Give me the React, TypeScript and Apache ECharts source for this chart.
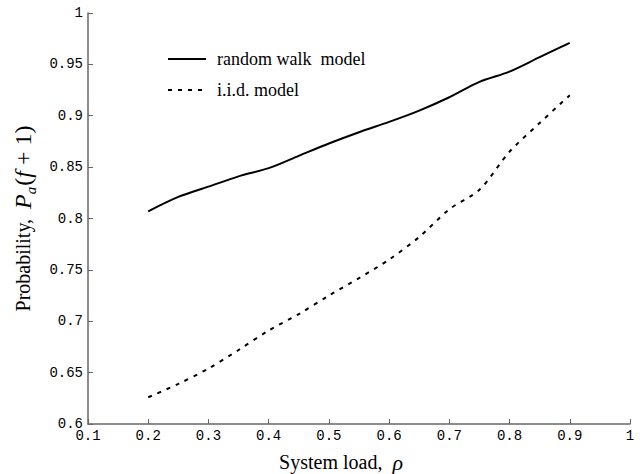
import React, { useEffect, useRef } from "react";
import * as echarts from "echarts";

const loads = [0.2, 0.25, 0.3, 0.35, 0.4, 0.45, 0.5, 0.55, 0.6, 0.65, 0.7, 0.75, 0.8, 0.85, 0.9];
const randomWalk = [0.807, 0.821, 0.831, 0.841, 0.849, 0.861, 0.873, 0.884, 0.894, 0.905, 0.918, 0.933, 0.943, 0.957, 0.971];
const iid = [0.626, 0.639, 0.654, 0.672, 0.691, 0.707, 0.725, 0.742, 0.76, 0.782, 0.809, 0.828, 0.865, 0.893, 0.92];
const seriesNames = ["random walk  model", "i.i.d. model"];

const fmt = (v: number) => String(+v.toFixed(2));

export default function App() {
  const ref = useRef<HTMLDivElement>(null);
  useEffect(() => {
    document.body.style.margin = "0";
    const chart = echarts.init(ref.current!, null, { renderer: "svg" });
    const axisCommon = {
      axisLine: { show: true, lineStyle: { color: "#666", width: 1.5 } },
      axisTick: { show: true, inside: true, length: 5, lineStyle: { color: "#666", width: 1 } },
      splitLine: { show: false },
      axisLabel: {
        color: "#000",
        fontFamily: "Liberation Mono",
        fontSize: 14,
        formatter: fmt,
      },
    };
    chart.setOption({
      animation: false,
      backgroundColor: "#fff",
      grid: { left: 88, right: 14, top: 13, bottom: 50, containLabel: false, outerBoundsMode: "none" },
      legend: {
        orient: "vertical",
        left: 162,
        top: 45,
        itemWidth: 38,
        itemHeight: 14,
        itemGap: 13,
        data: seriesNames,
        itemStyle: { opacity: 0 },
        textStyle: { fontFamily: "Liberation Serif", fontSize: 18, color: "#000", padding: [0, 0, 0, 6] },
      },
      xAxis: {
        type: "value",
        min: 0.1,
        max: 1,
        interval: 0.1,
        ...axisCommon,
        axisLabel: { ...axisCommon.axisLabel, margin: 5 },
        name: "{t|System load,  }{i|ρ}",
        nameLocation: "middle",
        nameGap: 27,
        nameTextStyle: {
          padding: [0, 36, 0, 0],
          rich: {
            t: { fontFamily: "Liberation Serif", fontSize: 20, color: "#000" },
            i: { fontFamily: "Liberation Serif", fontSize: 22, fontStyle: "italic", color: "#000" },
          },
        },
      },
      yAxis: {
        type: "value",
        min: 0.6,
        max: 1,
        interval: 0.05,
        ...axisCommon,
        axisLabel: { ...axisCommon.axisLabel, margin: 5 },
        name: "{t|Probability,  }{i|P}{s|a}{n|(}{i|f}{n| + 1)}",
        nameLocation: "middle",
        nameGap: 50,
        nameTextStyle: {
          rich: {
            t: { fontFamily: "Liberation Serif", fontSize: 20, color: "#000", lineHeight: 30, verticalAlign: "middle" },
            i: { fontFamily: "Liberation Serif", fontSize: 24, fontStyle: "italic", color: "#000", lineHeight: 30 },
            n: { fontFamily: "Liberation Serif", fontSize: 24, color: "#000", lineHeight: 30 },
            s: { fontFamily: "Liberation Serif", fontSize: 15, fontStyle: "italic", color: "#000", lineHeight: 30, verticalAlign: "bottom", padding: [9, 1, 0, 0] },
          },
        },
      },
      series: [
        {
          name: seriesNames[0],
          type: "line",
          data: loads.map((x, i) => [x, randomWalk[i]]),
          symbol: "none",
          smooth: 0.3,
          lineStyle: { color: "#000", width: 2 },
          itemStyle: { color: "#000" },
        },
        {
          name: seriesNames[1],
          type: "line",
          data: loads.map((x, i) => [x, iid[i]]),
          symbol: "none",
          smooth: 0.3,
          lineStyle: { color: "#000", width: 2, type: [4, 6] },
          itemStyle: { color: "#000" },
        },
      ],
    });
    return () => chart.dispose();
  }, []);
  return <div ref={ref} style={{ width: 644, height: 474 }} />;
}
